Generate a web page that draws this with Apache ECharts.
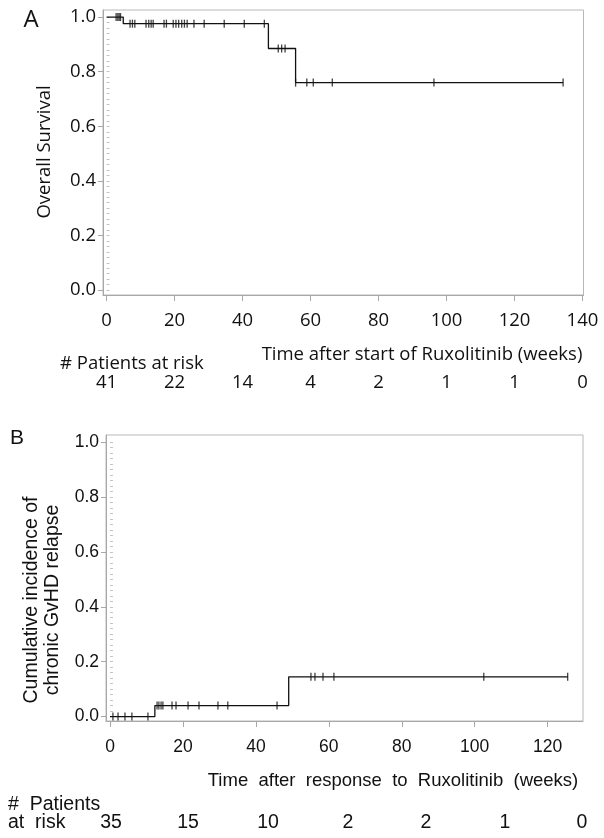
<!DOCTYPE html>
<html><head><meta charset="utf-8">
<script src="https://cdn.jsdelivr.net/npm/echarts@6/dist/echarts.min.js"></script>
<style>html,body{margin:0;padding:0;background:#fff}#c{width:604px;height:838px}</style>
</head><body><div id="c"></div>
<script>
// ---------- Panel A : Overall survival ----------
const aStepTimes = [0, 4.9, 47.6, 55.6, 134.3];
const aStepSurv  = [1, 0.976, 0.885, 0.76, 0.76];
const aCensorTimes = [2.8, 3.3, 3.7, 4.1,
  6.9, 7.6, 8.3, 11.6, 12.4, 13.1, 13.7, 16.9, 17.6, 19.6, 20.4, 21.2, 22.1, 22.9, 23.7, 25.7, 28.7, 34.6, 40.5, 46.4,
  50.5, 51.5, 52.5,
  55.6, 58.9, 60.8, 66.4, 96.3, 134.3];
const aCensorSurv = [1, 1, 1, 1,
  0.976, 0.976, 0.976, 0.976, 0.976, 0.976, 0.976, 0.976, 0.976, 0.976, 0.976, 0.976, 0.976, 0.976, 0.976, 0.976, 0.976, 0.976, 0.976, 0.976,
  0.885, 0.885, 0.885,
  0.76, 0.76, 0.76, 0.76, 0.76, 0.76];
const aXTicks = [0, 20, 40, 60, 80, 100, 120, 140];
const aAtRisk = [41, 22, 14, 4, 2, 1, 1, 0];

// ---------- Panel B : Cumulative incidence of cGvHD relapse ----------
const bStepTimes = [0, 12.3, 49.0, 125.5];
const bStepInc   = [0, 0.04, 0.145, 0.145];
const bCensorTimes = [0.8, 2.2, 4.1, 6.0, 10.4,
  12.9, 13.4, 14.0, 14.5, 17.0, 18.1, 21.4, 24.4, 29.6, 32.3, 45.8,
  55.1, 56.2, 58.4, 61.4, 102.5, 125.5];
const bCensorInc = [0, 0, 0, 0, 0,
  0.04, 0.04, 0.04, 0.04, 0.04, 0.04, 0.04, 0.04, 0.04, 0.04, 0.04,
  0.145, 0.145, 0.145, 0.145, 0.145, 0.145];
const bXTicks = [0, 20, 40, 60, 80, 100, 120];
const bAtRisk = [35, 15, 10, 2, 2, 1, 0];

const yTicks = [0, 0.2, 0.4, 0.6, 0.8, 1.0];
const yMinorTicks = [];
for (let i = 0; i <= 50; i++) yMinorTicks.push(+(i * 0.02).toFixed(2));

// layout (pixels)
const bAtRiskX = [111, 188, 268, 348, 426, 505, 582];

const fA = '"Open Sans", "Noto Sans", sans-serif';
const fB = '"Liberation Sans", Arial, sans-serif';
const axisGrey = '#a8a8a8';

function zip(a, b) { return a.map((v, i) => [v, b[i]]); }

function xAxisDef(gi, min, max, ticks, font, size, margin) {
  return {
    gridIndex: gi, type: 'value', min: min, max: max,
    axisLine: { show: true, onZero: false, lineStyle: { color: axisGrey, width: 1 } },
    axisTick: { show: true, customValues: ticks, length: 6, inside: false, lineStyle: { color: axisGrey } },
    axisLabel: { customValues: ticks, margin: margin, fontSize: size, fontFamily: font, color: '#111' },
    splitLine: { show: false }
  };
}
function yAxisDefs(gi, min, max, font, size) {
  return [{
    gridIndex: gi, type: 'value', min: min, max: max,
    axisLine: { show: true, onZero: false, lineStyle: { color: axisGrey, width: 1 } },
    axisTick: { show: true, customValues: yTicks, length: 5, lineStyle: { color: axisGrey } },
    axisLabel: { customValues: yTicks, margin: 7, fontSize: size, fontFamily: font, color: '#111',
      formatter: v => v.toFixed(1) },
    splitLine: { show: false }
  }, {
    gridIndex: gi, type: 'value', min: min, max: max,
    axisLine: { show: false },
    axisTick: { show: true, customValues: yMinorTicks, length: 3, lineStyle: { color: '#c4c4c4' } },
    axisLabel: { show: false },
    splitLine: { show: false }
  }];
}

const chart = echarts.init(document.getElementById('c'), null, { renderer: 'canvas' });
const ya = yAxisDefs(0, -0.018, 1.026, fA, 18.5);
const yb = yAxisDefs(1, -0.016, 1.0255, fB, 17.5);

chart.setOption({
  animation: false,
  backgroundColor: '#fff',
  grid: [
    { left: 103, top: 10, width: 480.5, height: 285, show: true, borderColor: '#b8b8b8', borderWidth: 1 },
    { left: 106, top: 435, width: 477, height: 286, show: true, borderColor: '#b8b8b8', borderWidth: 1 }
  ],
  xAxis: [
    xAxisDef(0, -1.06, 140.3, aXTicks, fA, 18.5, 16),
    xAxisDef(1, -1.1, 129.7, bXTicks, fB, 17.5, 17)
  ],
  yAxis: [ya[0], ya[1], yb[0], yb[1]],
  series: [
    { type: 'line', xAxisIndex: 0, yAxisIndex: 0, step: 'end', showSymbol: false,
      data: zip(aStepTimes, aStepSurv), lineStyle: { color: '#111', width: 1.3 } },
    { type: 'scatter', xAxisIndex: 0, yAxisIndex: 0, symbol: 'rect', symbolSize: [1.3, 8],
      data: zip(aCensorTimes, aCensorSurv), itemStyle: { color: '#111' } },
    { type: 'line', xAxisIndex: 1, yAxisIndex: 2, step: 'end', showSymbol: false,
      data: zip(bStepTimes, bStepInc), lineStyle: { color: '#111', width: 1.3 } },
    { type: 'scatter', xAxisIndex: 1, yAxisIndex: 2, symbol: 'rect', symbolSize: [1.3, 8],
      data: zip(bCensorTimes, bCensorInc), itemStyle: { color: '#111' } }
  ]
});

function txt(x, y, text, font, opts) {
  opts = opts || {};
  return {
    type: 'text', x: x, y: y, rotation: opts.rotation || 0,
    style: {
      text: text, font: font, fill: '#111',
      textAlign: opts.align || 'center', textVerticalAlign: 'middle',
      align: opts.align || 'center', verticalAlign: 'middle'
    }
  };
}

const g = [];
g.push(txt(31, 20, 'A', '24px ' + fA));
g.push(txt(45, 152, 'Overall Survival', '18.5px ' + fA, { rotation: Math.PI / 2 }));
g.push(txt(422, 355, 'Time after start of Ruxolitinib (weeks)', '18.5px ' + fA));
g.push(txt(60, 364, '# Patients at risk', '18.5px ' + fA, { align: 'left' }));
aAtRisk.forEach((n, i) => {
  const px = chart.convertToPixel({ xAxisIndex: 0 }, aXTicks[i]);
  g.push(txt(px, 383, String(n), '18.5px ' + fA));
});

g.push(txt(17, 438, 'B', '21px ' + fB));
g.push(txt(32, 600, 'Cumulative incidence of', '19.5px ' + fB, { rotation: Math.PI / 2 }));
g.push(txt(53, 600, 'chronic GvHD relapse', '19.5px ' + fB, { rotation: Math.PI / 2 }));
g.push(txt(393, 781, 'Time  after  response  to  Ruxolitinib  (weeks)', '18.5px ' + fB));
g.push(txt(8, 805, '#  Patients', '19.5px ' + fB, { align: 'left' }));
g.push(txt(8, 823, 'at  risk', '19.5px ' + fB, { align: 'left' }));
bAtRisk.forEach((n, i) => {
  g.push(txt(bAtRiskX[i], 823, String(n), '19.5px ' + fB));
});

chart.setOption({ graphic: g });
</script>
</body></html>
